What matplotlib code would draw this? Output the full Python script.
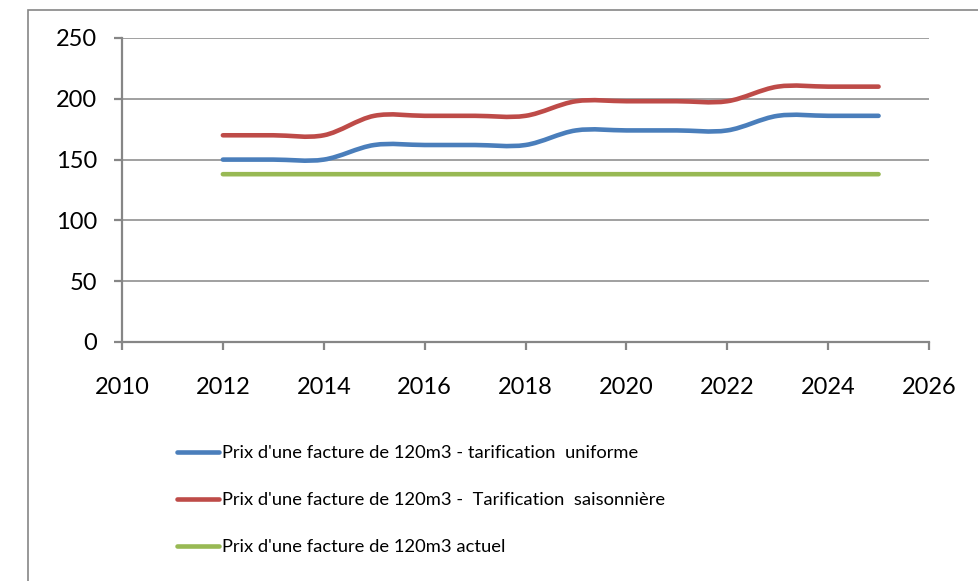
import numpy as np
import matplotlib.pyplot as plt
from matplotlib.path import Path
from matplotlib.patches import PathPatch, Rectangle
from matplotlib.lines import Line2D

plt.rcParams['font.family'] = ['Lato', 'DejaVu Sans']

years = [2012, 2013, 2014, 2015, 2016, 2017, 2018, 2019, 2020, 2021, 2022, 2023, 2024, 2025]
uniforme = [150, 150, 150, 162, 162, 162, 162, 174, 174, 174, 174, 186, 186, 186]
saisonniere = [170, 170, 170, 186, 186, 186, 186, 198, 198, 198, 198, 210, 210, 210]
actuel = [138, 138, 138, 138, 138, 138, 138, 138, 138, 138, 138, 138, 138, 138]

labels = ["Prix d'une facture de 120m3 - tarification  uniforme",
          "Prix d'une facture de 120m3 -  Tarification  saisonnière",
          "Prix d'une facture de 120m3 actuel"]
colors = ["#4A7EBB", "#BE4B48", "#98B954"]

GRAY = "#868686"
W, H = 979, 581


def smooth_path(x, y):
    # Excel-like smoothed line: Catmull-Rom segments as cubic Beziers
    pts = np.column_stack([x, y]).astype(float)
    n = len(pts)
    verts = [pts[0]]
    codes = [Path.MOVETO]
    for i in range(n - 1):
        p0 = pts[max(i - 1, 0)]
        p1 = pts[i]
        p2 = pts[i + 1]
        p3 = pts[min(i + 2, n - 1)]
        c1 = p1 + (p2 - p0) / 6.0
        c2 = p2 - (p3 - p1) / 6.0
        verts += [c1, c2, p2]
        codes += [Path.CURVE4] * 3
    return Path(verts, codes)


fig = plt.figure(figsize=(W / 100, H / 100), dpi=100)
ax = fig.add_axes([122 / W, 1 - 342 / H, (929 - 122) / W, (342 - 38) / H])

for ys, c in zip([uniforme, saisonniere, actuel], colors):
    ax.add_patch(PathPatch(smooth_path(years, ys), facecolor='none', edgecolor=c,
                           lw=3.3, capstyle='round', joinstyle='round', zorder=3))

ax.set_xlim(2010, 2026)
ax.set_ylim(0, 250)
ax.set_xticks(range(2010, 2027, 2))
ax.set_yticks(range(0, 251, 50))
ax.grid(axis='y', color=GRAY, lw=1.1)
ax.set_axisbelow(True)
for s in ['top', 'right']:
    ax.spines[s].set_visible(False)
for s in ['left', 'bottom']:
    ax.spines[s].set_color(GRAY)
    ax.spines[s].set_linewidth(1.6)
ax.tick_params(axis='x', length=6, width=1.6, color=GRAY, labelsize=17, pad=19)
ax.tick_params(axis='y', length=6, width=1.6, color=GRAY, labelsize=17, pad=12)

# outer chart border (cut by the image edge)
fig.patches.append(Rectangle((28 / W, -0.1), 1.2, 1 - 10 / H + 0.1, transform=fig.transFigure,
                             facecolor='none', edgecolor=GRAY, lw=1.2))

handles = [Line2D([], [], color=c, lw=3.3, solid_capstyle='round') for c in colors]
fig.legend(handles, labels, loc='upper left', bbox_to_anchor=(177 / W, 1 - 445 / H),
           frameon=False, fontsize=13.2, handlelength=2.29, handletextpad=0.17,
           labelspacing=1.70, borderpad=0, borderaxespad=0)

fig.savefig("out.png", dpi=100)
